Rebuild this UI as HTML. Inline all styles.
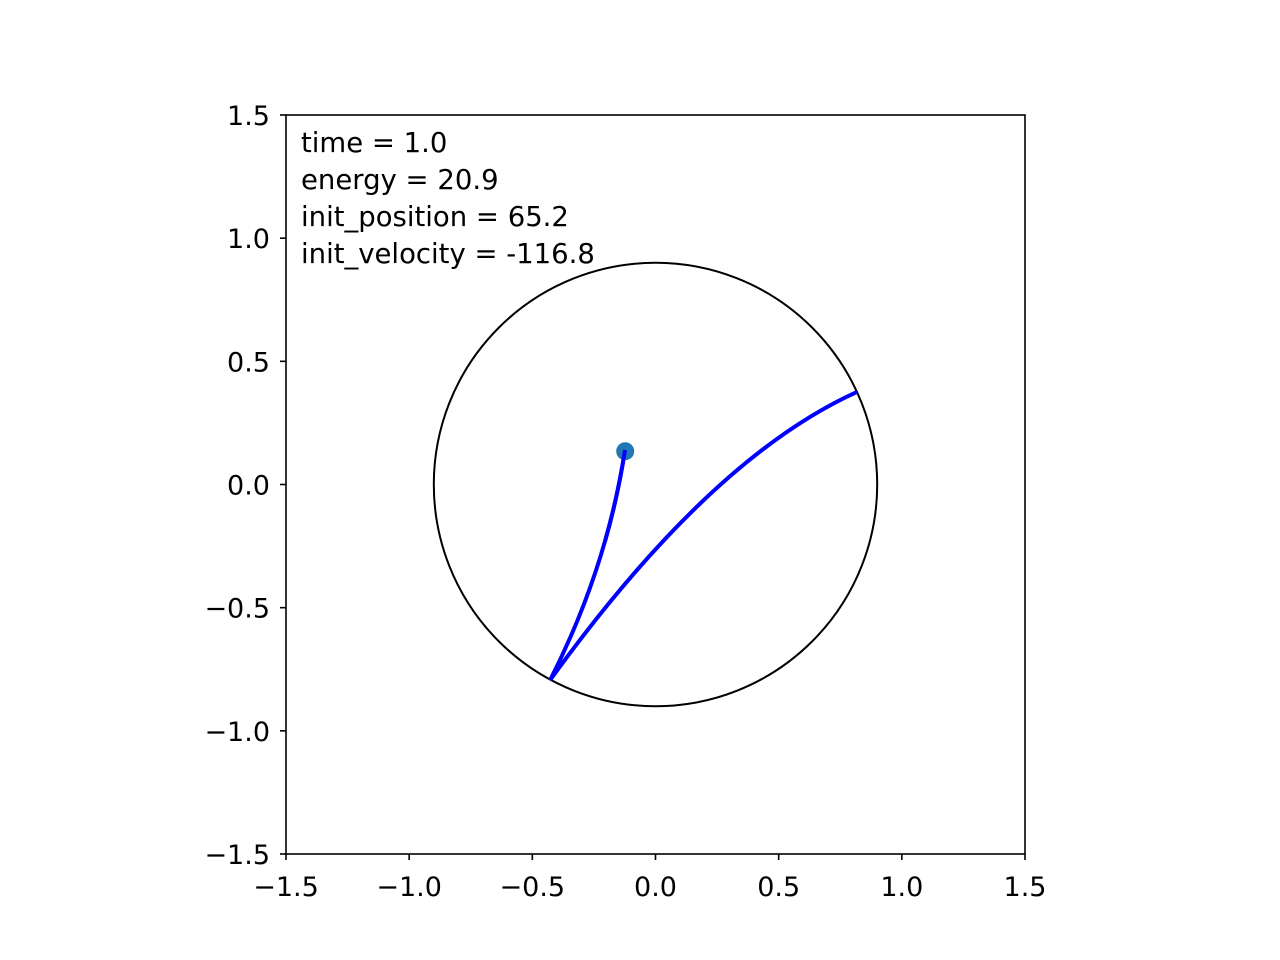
<!DOCTYPE html>
<html><head><meta charset="utf-8"><style>
html,body{margin:0;padding:0;background:#fff;width:1280px;height:960px;overflow:hidden}
text{font-family:"DejaVu Sans","Liberation Sans",sans-serif}
</style></head><body>
<svg id="chart" width="1280" height="960" viewBox="0 0 1280 960">
<rect x="0" y="0" width="1280" height="960" fill="#fff"/>
<g id="plot"></g>
</svg>
<script>
const xTicks=[-1.5,-1.0,-0.5,0.0,0.5,1.0,1.5];
const yTicks=[-1.5,-1.0,-0.5,0.0,0.5,1.0,1.5];
const circleRadius=0.9;
// trajectory: start, midpoint, cusp, midpoint, end
const pathX=[0.818,0.209,-0.428,-0.237,-0.124];
const pathY=[0.376,-0.051,-0.794,-0.335,0.140];
const bobX=[-0.123];
const bobY=[0.135];
const infoLines=["time = 1.0","energy = 20.9","init_position = 65.2","init_velocity = -116.8"];

const L=286,R=1025,T=115,B=854;
const sx=v=>L+(v+1.5)/3*(R-L);
const sy=v=>B-(v+1.5)/3*(B-T);
const ns="http://www.w3.org/2000/svg";
const g=document.getElementById('plot');
function mk(tag,attrs){const e=document.createElementNS(ns,tag);for(const k in attrs)e.setAttribute(k,attrs[k]);g.appendChild(e);return e;}
const fmt=v=>(v<0?"\u2212":"")+Math.abs(v).toFixed(1);

const c=mk('circle',{cx:sx(0),cy:sy(0),r:sx(circleRadius)-sx(0),fill:'none',stroke:'#000','stroke-width':2});



const pts=pathX.map((x,i)=>[sx(x),sy(pathY[i])]);
function quad(a,m,b,move){
  const cx=2*m[0]-(a[0]+b[0])/2, cy=2*m[1]-(a[1]+b[1])/2;
  return (move?'M'+a[0].toFixed(1)+' '+a[1].toFixed(1):'')+' Q'+cx.toFixed(1)+' '+cy.toFixed(1)+' '+b[0].toFixed(1)+' '+b[1].toFixed(1);
}
let d='';
for(let i=0;i+2<pts.length;i+=2) d+=quad(pts[i],pts[i+1],pts[i+2],i===0);
const p=mk('path',{d:d,fill:'none',stroke:'#0000ff','stroke-width':4,'stroke-linejoin':'miter'});



bobX.forEach((x,i)=>{
const b=mk('circle',{cx:sx(x),cy:sy(bobY[i]),r:9,fill:'#1f77b4'});


});
const n=pts.length;
const p2=mk('path',{d:quad(pts[n-3],pts[n-2],pts[n-1],true),fill:'none',stroke:'#0000ff','stroke-width':4,'stroke-dasharray':'0 150 40'});



const f=mk('rect',{x:L,y:T,width:R-L,height:B-T,fill:'none',stroke:'#000','stroke-width':1.6});



xTicks.forEach(v=>{
const t=mk('line',{x1:sx(v),x2:sx(v),y1:B,y2:B+6,stroke:'#000','stroke-width':1.6});


const l=mk('text',{x:sx(v),y:B+42,'text-anchor':'middle','font-size':27});
l.textContent=fmt(v);


});
yTicks.forEach(v=>{
const t=mk('line',{x1:L-6,x2:L,y1:sy(v),y2:sy(v),stroke:'#000','stroke-width':1.6});


const l=mk('text',{x:L-16,y:sy(v)+10,'text-anchor':'end','font-size':27});
l.textContent=fmt(v);


});
infoLines.forEach((s,i)=>{
const l=mk('text',{x:301,y:152+i*37,'font-size':27.5});
l.textContent=s;


});
</script>
</body></html>
